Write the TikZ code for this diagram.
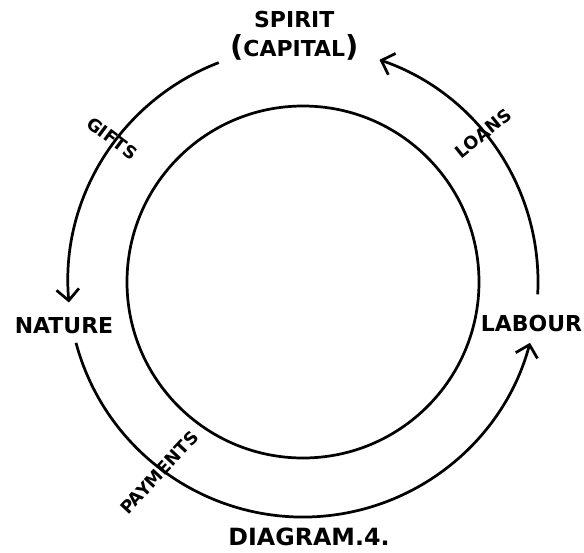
\documentclass[tikz,border=0pt]{standalone}
\usepackage{fontspec}
\setsansfont{DejaVu Sans}
\usetikzlibrary{arrows.meta, positioning, shapes}

\begin{document}
\begin{tikzpicture}[
    line width=3.1pt,
    flow/.style={draw, -{Straight Barb[length=4.5mm, width=9mm, line width=3.1pt]}},
    core/.style={circle, draw, minimum size=14.08cm, inner sep=0pt},
    place/.style={font=\sffamily\bfseries\fontsize{25}{32}\selectfont, inner sep=0pt, align=center},
    tag/.style={font=\sffamily\bfseries\fontsize{20}{22}\selectfont, inner sep=0pt}
]
    \useasboundingbox (-12.12,-10.8) rectangle (11.24,11.28);

    % --- nodes ---
    \node [core] (wheel) at (0,0) {};
    \node [place] (spirit) at (-0.35,9.85) {SPIRIT\\{\fontsize{33}{33}\selectfont(}CAPITAL{\fontsize{33}{33}\selectfont)}};
    \node [place] (nature) at (-9.56,-1.76) {NATURE};
    \node [place, anchor=east] (labour) at (11.22,-1.66) {LABOUR};
    \node [place, font=\sffamily\bfseries\fontsize{27}{30}\selectfont] (caption) at (0.24,-10.2) {DIAGRAM.4.};

    % --- arc ends ---
    \coordinate (gifts start) at (111:9.4);
    \coordinate (pay start) at (195:9.4);
    \coordinate (loans start) at (-3:9.4);

    % --- arcs ---
    \path [flow] (gifts start) arc[start angle=111, end angle=185, radius=9.4];
    \path [flow] (pay start) arc[start angle=195, end angle=345, radius=9.4];
    \path [flow] (loans start) arc[start angle=-3, end angle=71, radius=9.4];

    % --- labels ---
    \node [tag, rotate=-37] (gifts) at (143:9.55) {GIFTS};
    \node [tag, rotate=39] (loans) at (39.5:9.35) {LOANS};
    \node [tag, rotate=47] (payments) at (233:9.55) {PAYMENTS};

\end{tikzpicture}
\end{document}
